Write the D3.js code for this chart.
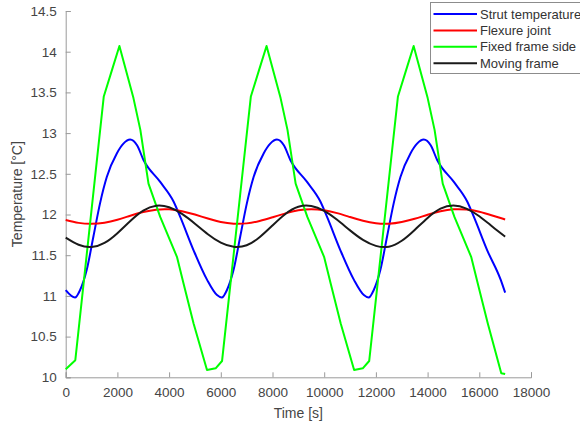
<!DOCTYPE html>
<html>
<head>
<meta charset="utf-8">
<script src="https://cdn.jsdelivr.net/npm/d3@7"></script>
<style>
  html, body { margin: 0; padding: 0; background: #fff; }
  svg { display: block; font-family: "Liberation Sans", Arial, sans-serif; }
</style>
</head>
<body>
<svg id="chart" width="580" height="426"></svg>
<script>
// Series names as shown in the legend
const seriesNames = ["Strut temperature", "Flexure joint", "Fixed frame side", "Moving frame"];
const seriesColors = ["#0000ff", "#ff0000", "#00ff00", "#1a1a1a"];

// Axis ticks
const xTicks = [0, 2000, 4000, 6000, 8000, 10000, 12000, 14000, 16000, 18000];
const yTicks = [10, 10.5, 11, 11.5, 12, 12.5, 13, 13.5, 14, 14.5];

// Strut temperature [°C] over time [s]
const strutTime = [0, 360, 554, 814, 1072, 1330, 1589, 1977, 2233, 2493, 2760, 3010, 3656, 4172, 4431, 4947, 5466, 5854,
  6040, 6234, 6494, 6752, 7010, 7269, 7657, 7913, 8173, 8440, 8690, 9336, 9852, 10111, 10627, 11146, 11534,
  11720, 11914, 12174, 12432, 12690, 12949, 13337, 13593, 13853, 14120, 14370, 15016, 15532, 15791, 16307, 16826, 17000];
const strutTemp = [11.07, 10.98, 11.07, 11.32, 11.73, 12.14, 12.46, 12.75, 12.87, 12.92, 12.85, 12.67, 12.40, 12.16, 11.97, 11.56, 11.20, 11.01,
  10.98, 11.07, 11.32, 11.73, 12.14, 12.46, 12.75, 12.87, 12.92, 12.85, 12.67, 12.40, 12.16, 11.97, 11.56, 11.20, 11.01,
  10.98, 11.07, 11.32, 11.73, 12.14, 12.46, 12.75, 12.87, 12.92, 12.85, 12.67, 12.40, 12.16, 11.97, 11.56, 11.20, 11.04];

// Flexure joint and moving frame, sampled every 500 s
const sampleTime = [0, 500, 1000, 1500, 2000, 2500, 3000, 3500, 4000, 4500, 5000, 5500, 6000, 6500, 7000, 7500, 8000, 8500,
  9000, 9500, 10000, 10500, 11000, 11500, 12000, 12500, 13000, 13500, 14000, 14500, 15000, 15500, 16000, 16500, 17000];
const flexureTemp = [11.933, 11.897, 11.885, 11.899, 11.936, 11.985, 12.030, 12.059, 12.063, 12.041, 11.999, 11.950, 11.908, 11.887,
  11.891, 11.920, 11.966, 12.014, 12.051, 12.065, 12.052, 12.017, 11.969, 11.923, 11.892, 11.886, 11.907, 11.947, 11.996,
  12.039, 12.063, 12.060, 12.033, 11.988, 11.939];
const movingTemp = [11.716, 11.628, 11.600, 11.651, 11.771, 11.921, 12.048, 12.108, 12.089, 12.007, 11.887, 11.758, 11.654, 11.603,
  11.622, 11.721, 11.866, 12.007, 12.095, 12.104, 12.044, 11.935, 11.805, 11.688, 11.615, 11.605, 11.677, 11.810, 11.958,
  12.071, 12.110, 12.073, 11.979, 11.853, 11.728];

// Fixed frame side [°C] over time [s]
const fixedTime = [0, 372, 1473, 1795, 2078, 2621, 2888, 3203, 3656, 4303, 4561, 4947, 5466, 5800,
  6048, 7163, 7485, 7770, 8313, 8580, 8895, 9348, 9995, 10253, 10639, 11158, 11492,
  11740, 12853, 13175, 13460, 14003, 14270, 14585, 15038, 15685, 15943, 16329, 16850, 17000];
const fixedTemp = [10.10, 10.21, 13.45, 13.78, 14.07, 13.43, 13.04, 12.38, 11.97, 11.48, 11.15, 10.66, 10.09, 10.11,
  10.20, 13.45, 13.78, 14.07, 13.43, 13.04, 12.38, 11.97, 11.48, 11.15, 10.66, 10.09, 10.11,
  10.20, 13.45, 13.78, 14.07, 13.43, 13.04, 12.38, 11.97, 11.48, 11.15, 10.66, 10.05, 10.04];

const svg = d3.select("#chart");
const axisColor = "#9a9a9a";
const textColor = "#454545";

const x = d3.scaleLinear().domain([0, 18000]).range([65.7, 531]);
const y = d3.scaleLinear().domain([10, 14.5]).range([377.3, 11]);

// Axes with inward ticks
const xAxis = d3.axisBottom(x).tickValues(xTicks).tickSize(-5).tickPadding(10).tickFormat(d3.format("d"));
const yAxis = d3.axisLeft(y).tickValues(yTicks).tickSize(-5).tickPadding(9).tickFormat(d => String(d));

const gx = svg.append("g").attr("transform", `translate(0,${y(10)})`).call(xAxis);
const gy = svg.append("g").attr("transform", `translate(${x(0)},0)`).call(yAxis);
[gx, gy].forEach(g => {
  g.select(".domain").attr("stroke", axisColor).attr("stroke-width", 1);
  g.selectAll(".tick line").attr("stroke", axisColor);
  g.selectAll(".tick text").attr("fill", textColor).style("font-size", "13.5px")
    .style("font-family", '"Liberation Sans", Arial, sans-serif');
});

// Axis titles
svg.append("text").attr("x", (x(0) + x(18000)) / 2).attr("y", 418).attr("text-anchor", "middle")
  .attr("fill", textColor).style("font-size", "14px").text("Time [s]");
svg.append("text").attr("transform", `translate(22,${(y(10) + y(14.5)) / 2}) rotate(-90)`)
  .attr("text-anchor", "middle").attr("fill", textColor).style("font-size", "14px").text("Temperature [°C]");

// Lines
const series = [
  { t: strutTime, v: strutTemp, curve: d3.curveMonotoneX },
  { t: sampleTime, v: flexureTemp, curve: d3.curveNatural },
  { t: fixedTime, v: fixedTemp, curve: d3.curveLinear },
  { t: sampleTime, v: movingTemp, curve: d3.curveNatural }
];
series.forEach((s, i) => {
  const pts = s.t.map((t, k) => [t, s.v[k]]);
  const line = d3.line().x(d => x(d[0])).y(d => y(d[1])).curve(s.curve);
  svg.append("path").datum(pts).attr("d", line).attr("fill", "none")
    .attr("stroke", seriesColors[i]).attr("stroke-width", 2).attr("stroke-linejoin", "round");
});

// Legend
const lg = svg.append("g");
lg.append("rect").attr("x", 430.5).attr("y", 2.5).attr("width", 160).attr("height", 71)
  .attr("fill", "#fff").attr("stroke", "#8c8c8c").attr("stroke-width", 1);
seriesNames.forEach((name, i) => {
  const cy = 14 + i * 16.4;
  lg.append("line").attr("x1", 433.5).attr("x2", 477).attr("y1", cy).attr("y2", cy)
    .attr("stroke", seriesColors[i]).attr("stroke-width", 2);
  lg.append("text").attr("x", 480).attr("y", cy).attr("dy", "0.35em").attr("fill", "#333")
    .style("font-size", "13px").text(name);
});
</script>
</body>
</html>
